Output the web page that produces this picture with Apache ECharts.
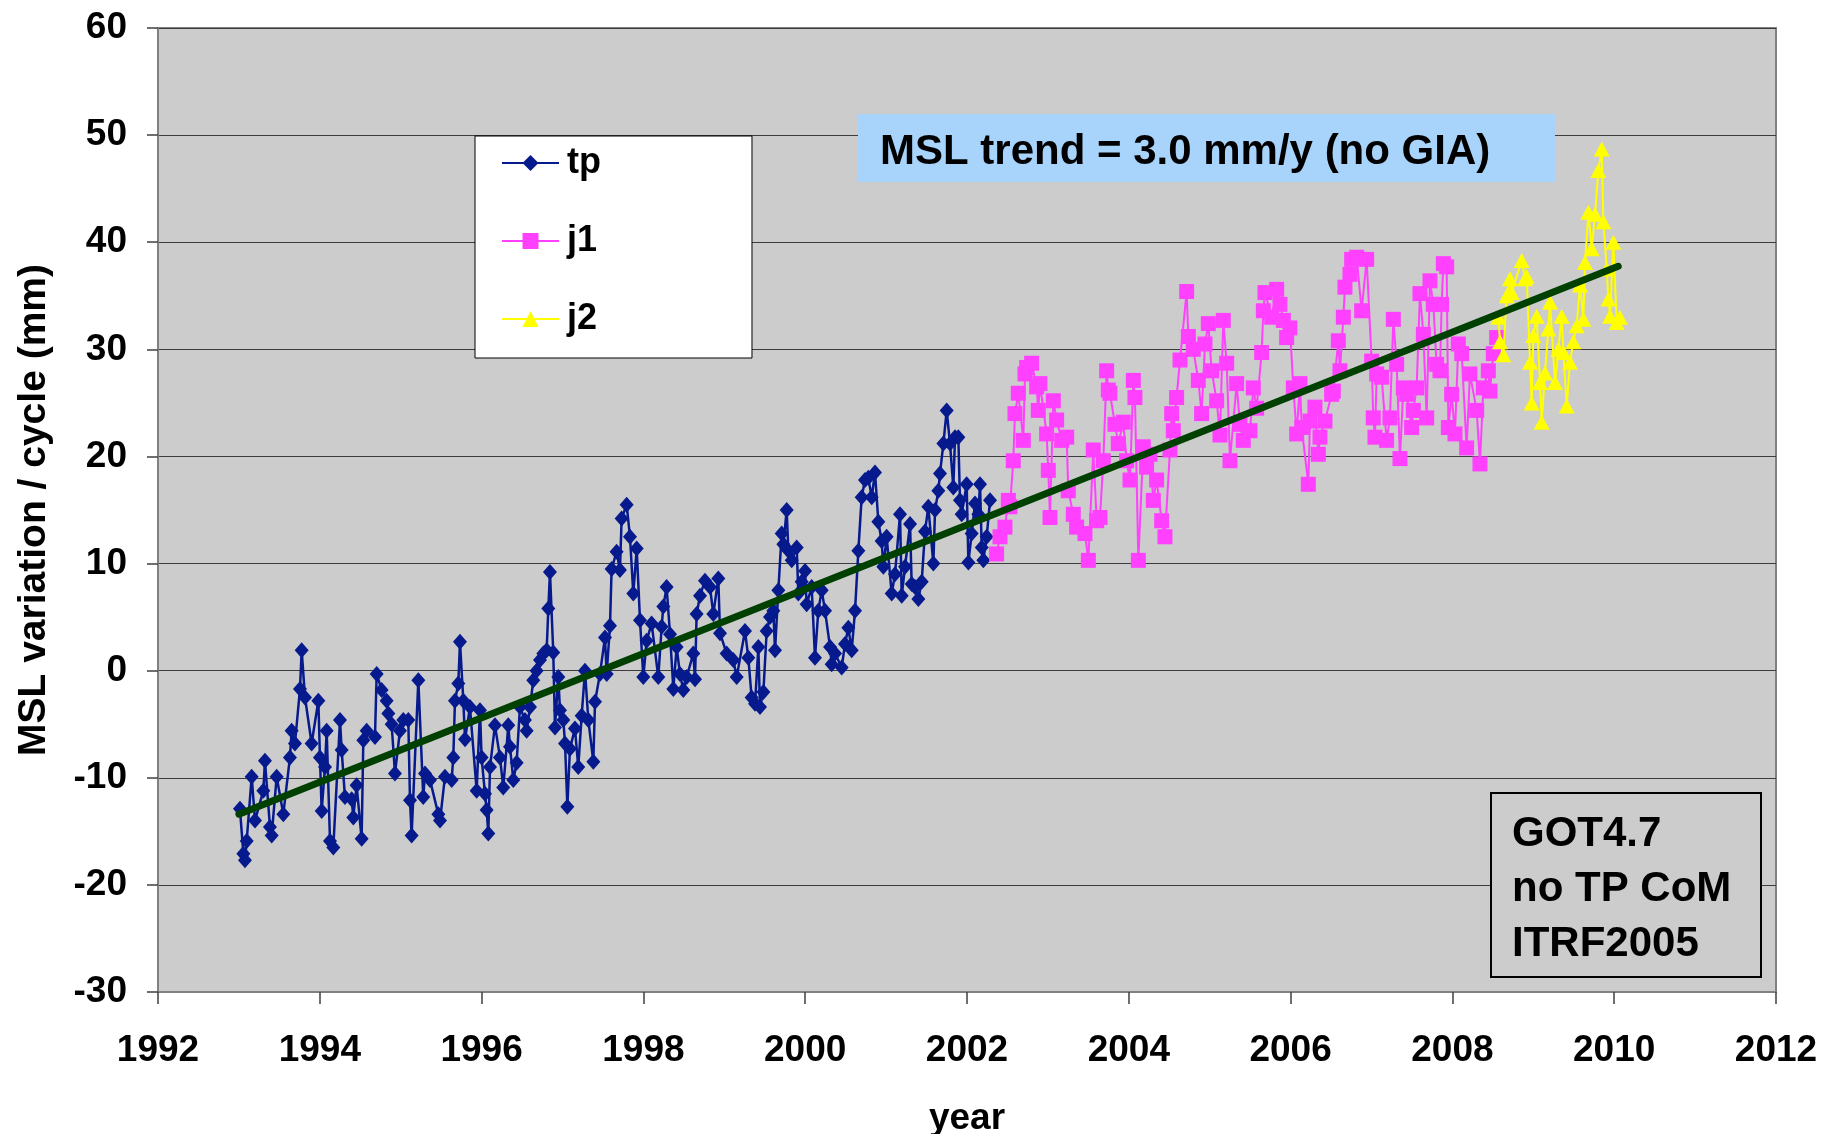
<!DOCTYPE html>
<html>
<head>
<meta charset="utf-8">
<title>MSL variation per cycle</title>
<script src="https://cdn.jsdelivr.net/npm/echarts@6/dist/echarts.min.js"></script>
<style>
  html, body { margin: 0; padding: 0; background: #ffffff; }
  #chart { width: 1826px; height: 1134px; }
</style>
</head>
<body>
<div id="chart"></div>
<script>
// Mean sea level variation per altimeter cycle: [decimal year, mm]
const tp = [
  [1993.013,-12.9],[1993.055,-17.1],[1993.075,-17.7],[1993.096,-15.9],[1993.158,-9.9],[1993.199,-14.0],
  [1993.302,-11.2],[1993.322,-8.4],[1993.384,-14.6],[1993.405,-15.4],[1993.467,-9.9],[1993.549,-13.4],
  [1993.631,-8.1],[1993.652,-5.6],[1993.693,-6.8],[1993.755,-1.7],[1993.776,1.9],[1993.817,-2.5],
  [1993.899,-6.8],[1993.982,-2.8],[1994.002,-8.1],[1994.023,-13.1],[1994.064,-9.0],[1994.085,-5.6],
  [1994.126,-15.9],[1994.167,-16.5],[1994.250,-4.6],[1994.270,-7.4],[1994.311,-11.8],[1994.394,-12.0],
  [1994.414,-13.7],[1994.455,-10.7],[1994.517,-15.7],[1994.538,-6.5],[1994.579,-5.6],[1994.682,-6.2],
  [1994.703,-0.3],[1994.764,-1.8],[1994.826,-2.8],[1994.847,-4.0],[1994.888,-5.0],[1994.929,-9.6],
  [1994.991,-5.6],[1995.032,-4.6],[1995.094,-4.6],[1995.115,-12.1],[1995.135,-15.4],[1995.218,-0.9],
  [1995.279,-11.8],[1995.300,-9.6],[1995.362,-10.2],[1995.465,-13.4],[1995.486,-14.0],[1995.547,-9.9],
  [1995.630,-10.2],[1995.650,-8.1],[1995.671,-2.8],[1995.712,-1.2],[1995.733,2.7],[1995.774,-2.8],
  [1995.795,-6.4],[1995.856,-3.4],[1995.939,-11.2],
  [1995.980,-3.7],[1996.000,-8.1],[1996.042,-11.5],[1996.062,-13.0],[1996.083,-15.2],[1996.104,-9.0],
  [1996.165,-5.1],[1996.227,-8.1],[1996.268,-10.9],[1996.330,-5.1],[1996.351,-7.1],[1996.392,-10.2],
  [1996.433,-8.6],[1996.474,-3.4],[1996.536,-4.6],[1996.557,-5.6],[1996.598,-3.4],[1996.639,-0.9],
  [1996.680,0.0],[1996.722,1.0],[1996.763,1.6],[1996.804,1.9],[1996.825,5.8],[1996.845,9.2],
  [1996.886,1.7],[1996.907,-5.3],[1996.948,-0.6],[1996.969,-3.7],[1997.010,-4.6],[1997.031,-6.8],
  [1997.060,-12.7],[1997.092,-7.3],[1997.154,-5.4],[1997.195,-9.0],[1997.237,-4.2],[1997.278,0.0],
  [1997.319,-4.6],[1997.381,-8.5],[1997.402,-2.9],[1997.463,-0.3],[1997.525,3.1],[1997.546,-0.3],
  [1997.587,4.2],[1997.607,9.5],[1997.669,11.1],[1997.710,9.4],[1997.731,14.2],[1997.793,15.5],
  [1997.834,12.5],[1997.875,7.2],[1997.917,11.4],[1997.958,4.7],[1997.999,-0.6],[1998.040,2.8],
  [1998.102,4.4],[1998.184,-0.6],[1998.226,4.1],[1998.246,6.0],[1998.287,7.8],[1998.329,3.4],
  [1998.370,-1.7],[1998.411,2.2],[1998.452,-0.3],[1998.493,-1.8],[1998.535,-0.6],[1998.617,1.6],
  [1998.638,-0.8],[1998.658,5.3],[1998.700,7.0],[1998.761,8.4],[1998.823,7.8],[1998.864,5.3],
  [1998.926,8.6],[1998.947,3.5],[1999.029,1.6],[1999.111,1.0],[1999.153,-0.6],
  [1999.256,3.7],[1999.297,1.2],[1999.338,-2.5],[1999.380,-3.1],[1999.421,2.2],[1999.441,-3.4],
  [1999.483,-2.0],[1999.524,3.7],[1999.565,5.0],[1999.606,5.6],[1999.627,1.9],[1999.668,7.5],
  [1999.709,12.8],[1999.730,11.8],[1999.771,15.0],[1999.792,11.2],[1999.833,10.3],[1999.895,11.5],
  [1999.915,7.2],[1999.956,8.3],[1999.998,9.3],[2000.018,6.2],[2000.080,7.8],[2000.121,1.2],
  [2000.162,5.6],[2000.204,7.5],[2000.245,5.6],[2000.307,2.2],[2000.327,0.6],[2000.369,1.6],
  [2000.451,0.3],[2000.492,2.5],[2000.533,4.0],[2000.575,1.9],[2000.616,5.6],[2000.657,11.2],
  [2000.698,16.2],[2000.739,17.8],[2000.780,18.0],[2000.822,16.2],[2000.863,18.5],[2000.904,13.9],
  [2000.945,12.1],[2000.966,9.7],[2001.007,12.5],[2001.069,7.2],[2001.110,9.0],[2001.172,14.6],
  [2001.193,7.0],[2001.234,9.7],[2001.296,13.7],[2001.316,8.1],[2001.357,7.8],[2001.399,6.7],
  [2001.440,8.3],[2001.481,13.0],[2001.522,15.3],[2001.584,10.0],[2001.605,15.0],[2001.646,16.8],
  [2001.666,18.4],[2001.708,21.2],[2001.749,24.3],[2001.790,21.2],[2001.831,17.1],[2001.852,21.8],
  [2001.893,21.8],[2001.913,15.9],[2001.934,14.6],[2001.996,17.4],[2002.017,10.1],[2002.058,12.8],
  [2002.099,15.6],[2002.140,14.6],[2002.161,17.4],[2002.182,11.5],[2002.202,10.3],[2002.243,12.5],
  [2002.285,15.9]
];

const j1 = [
  [2002.366,10.9],[2002.408,12.5],[2002.469,13.4],[2002.511,15.9],[2002.531,15.3],[2002.572,19.6],
  [2002.593,24.0],[2002.634,25.9],[2002.696,21.5],[2002.717,27.7],[2002.737,28.3],[2002.799,28.7],
  [2002.861,26.5],[2002.881,24.3],[2002.902,26.8],[2002.984,22.1],[2003.005,18.7],[2003.026,14.3],
  [2003.067,25.2],[2003.108,23.4],[2003.170,21.5],[2003.232,21.8],[2003.252,16.8],[2003.314,14.6],
  [2003.355,13.4],[2003.458,12.8],[2003.500,10.3],[2003.561,20.6],[2003.603,14.0],[2003.644,14.3],
  [2003.685,19.6],[2003.726,28.0],[2003.747,26.2],[2003.767,25.9],[2003.829,23.0],[2003.870,21.2],
  [2003.932,23.2],[2003.973,19.6],[2004.015,17.8],[2004.056,27.1],[2004.076,25.5],[2004.118,10.3],
  [2004.179,20.9],[2004.220,19.0],[2004.262,20.2],[2004.303,15.9],[2004.344,17.8],[2004.406,14.0],
  [2004.447,12.5],[2004.509,20.6],[2004.530,24.0],[2004.550,22.4],[2004.591,25.5],[2004.633,29.0],
  [2004.715,35.4],[2004.736,31.2],[2004.797,30.0],[2004.859,27.1],[2004.900,24.0],[2004.942,30.5],
  [2004.983,32.4],[2005.024,28.0],[2005.086,25.2],[2005.127,22.0],[2005.168,32.7],[2005.210,28.7],
  [2005.251,19.6],[2005.333,26.8],[2005.374,23.0],[2005.415,21.5],
  [2005.498,22.4],[2005.539,26.4],[2005.580,24.5],[2005.642,29.7],[2005.663,33.6],[2005.683,35.3],
  [2005.766,33.0],[2005.828,35.6],[2005.869,34.2],[2005.910,32.7],[2005.951,31.1],[2005.992,32.0],
  [2006.034,26.4],[2006.075,22.1],[2006.116,26.8],[2006.137,22.7],[2006.219,17.4],[2006.240,23.3],
  [2006.301,24.6],[2006.343,20.2],[2006.363,21.8],[2006.425,23.3],[2006.507,25.8],[2006.528,26.1],
  [2006.590,30.8],[2006.610,28.0],[2006.652,33.0],[2006.672,35.8],[2006.734,37.0],[2006.755,38.4],
  [2006.817,38.6],[2006.878,33.6],[2006.940,38.4],[2007.002,28.9],[2007.022,23.6],[2007.043,21.8],
  [2007.064,27.7],[2007.125,27.4],[2007.187,21.5],[2007.228,23.6],[2007.270,32.8],[2007.311,28.6],
  [2007.352,19.8],[2007.393,26.4],[2007.435,25.8],[2007.496,22.7],[2007.517,24.3],[2007.558,26.4],
  [2007.599,35.2],[2007.641,31.4],[2007.682,23.6],[2007.723,36.4],[2007.764,34.2],[2007.805,28.6],
  [2007.847,28.0],[2007.867,34.2],[2007.888,38.0],[2007.929,37.7],[2007.950,22.7],[2007.991,25.8],
  [2008.032,22.1],[2008.073,30.5],[2008.115,29.6],[2008.176,20.8],[2008.217,27.7],[2008.300,24.3],
  [2008.341,19.3],[2008.382,26.4],[2008.444,28.0],[2008.465,26.1],[2008.506,29.6],[2008.547,31.1]
];

const j2 = [
  [2008.568,33.0],[2008.589,30.7],[2008.630,29.5],[2008.671,35.0],[2008.712,36.6],[2008.733,35.3],
  [2008.857,38.3],[2008.898,36.6],[2008.918,36.8],[2008.960,28.8],[2008.980,25.0],[2009.001,31.3],
  [2009.042,33.1],[2009.083,26.9],[2009.104,23.2],[2009.145,27.8],[2009.186,31.9],[2009.207,34.4],
  [2009.269,26.9],[2009.310,30.0],[2009.351,33.1],[2009.372,29.7],[2009.413,24.7],[2009.454,28.8],
  [2009.495,30.7],[2009.536,32.2],[2009.578,36.0],[2009.619,32.8],[2009.639,38.1],[2009.681,42.8],
  [2009.722,39.4],[2009.763,42.6],[2009.804,46.7],[2009.846,48.7],[2009.866,41.9],[2009.907,37.5],
  [2009.928,34.7],[2009.949,33.1],[2009.990,40.0],[2010.031,32.5],[2010.070,33.0]
];

// Linear MSL trend (mm per year), drawn through an anchor point over the record span
const trendRate = 3.0;
const trendAnchor = [2001.5, 12.1];
const trendSpan = [1993.0, 2010.05];

// Axis ticks
const yearAxis = { min: 1992, max: 2012, step: 2 };
const mslAxis = { min: -30, max: 60, step: 10 };

// Notes drawn on the plot
const modelNotes = ['GOT4.7', 'no TP CoM', 'ITRF2005'];

const FONT = '"Liberation Sans", Arial, Helvetica, sans-serif';

const trendLine = trendSpan.map(function (t) {
  return [t, trendAnchor[1] + trendRate * (t - trendAnchor[0])];
});

const chart = echarts.init(document.getElementById('chart'), null, { renderer: 'canvas' });

chart.setOption({
  animation: false,
  backgroundColor: '#ffffff',
  grid: {
    left: 158, right: 50, top: 28, bottom: 142,
    outerBoundsMode: 'none',
    containLabel: false,
    show: true,
    backgroundColor: '#cccccc',
    borderColor: '#808080',
    borderWidth: 2
  },
  legend: {
    data: ['tp', 'j1', 'j2'],
    orient: 'vertical',
    left: 475,
    top: 136,
    padding: [9, 151, 21, 26],
    itemGap: 42,
    itemWidth: 57,
    itemHeight: 20,
    backgroundColor: '#ffffff',
    borderColor: '#000000',
    borderWidth: 1,
    borderRadius: 0,
    selectedMode: false,
    textStyle: {
      fontFamily: FONT, fontSize: 36, fontWeight: 'bold', color: '#000000',
      lineHeight: 36, padding: [0, 0, 0, 3]
    }
  },
  xAxis: {
    type: 'value',
    min: yearAxis.min,
    max: yearAxis.max,
    interval: yearAxis.step,
    name: 'year',
    nameLocation: 'middle',
    nameGap: 108,
    nameTextStyle: { fontFamily: FONT, fontSize: 37, fontWeight: 'bold', color: '#000000' },
    axisLine: { show: true, onZero: false, lineStyle: { color: '#808080', width: 2 } },
    axisTick: { show: true, inside: false, length: 12, lineStyle: { color: '#404040', width: 1.5 } },
    axisLabel: {
      margin: 40,
      fontFamily: FONT, fontSize: 37, fontWeight: 'bold', color: '#000000',
      showMinLabel: true, showMaxLabel: true,
      formatter: function (v) { return String(v); }
    },
    splitLine: { show: false }
  },
  yAxis: {
    type: 'value',
    min: mslAxis.min,
    max: mslAxis.max,
    interval: mslAxis.step,
    name: 'MSL variation / cycle (mm)',
    nameLocation: 'middle',
    nameRotate: 90,
    nameGap: 104,
    nameTextStyle: { fontFamily: FONT, fontSize: 39, fontWeight: 'bold', color: '#000000' },
    axisLine: { show: true, onZero: false, lineStyle: { color: '#808080', width: 2 } },
    axisTick: { show: true, inside: false, length: 11, lineStyle: { color: '#404040', width: 1.5 } },
    axisLabel: {
      margin: 31,
      fontFamily: FONT, fontSize: 37, fontWeight: 'bold', color: '#000000',
      showMinLabel: true, showMaxLabel: true
    },
    splitLine: { show: true, lineStyle: { color: '#3c3c3c', width: 1.2 } }
  },
  series: [
    {
      name: 'tp', type: 'line', data: tp,
      symbol: 'diamond', symbolSize: [14, 16], showSymbol: true,
      lineStyle: { color: '#061a8e', width: 2.5 },
      itemStyle: { color: '#061a8e' },
      z: 2
    },
    {
      name: 'j1', type: 'line', data: j1,
      symbol: 'rect', symbolSize: 15, showSymbol: true,
      lineStyle: { color: '#ff40ff', width: 2 },
      itemStyle: { color: '#ff40ff' },
      z: 3
    },
    {
      name: 'j2', type: 'line', data: j2,
      symbol: 'triangle', symbolSize: [16, 15], showSymbol: true,
      lineStyle: { color: '#ffff00', width: 2 },
      itemStyle: { color: '#ffff00' },
      z: 4
    },
    {
      name: 'trend', type: 'line', data: trendLine,
      symbol: 'none',
      lineStyle: { color: '#004000', width: 7, cap: 'round' },
      z: 6,
      silent: true
    }
  ],
  graphic: [
    {
      type: 'rect', z: 100,
      shape: { x: 858, y: 114, width: 697, height: 68 },
      style: { fill: '#a8d4fb' }
    },
    {
      type: 'text', z: 101, x: 880, y: 152,
      style: {
        text: 'MSL trend = ' + trendRate.toFixed(1) + ' mm/y (no GIA)',
        font: 'bold 42px ' + FONT,
        fill: '#000000',
        align: 'left',
        verticalAlign: 'middle'
      }
    },
    {
      type: 'rect', z: 100,
      shape: { x: 1491, y: 793, width: 270, height: 184 },
      style: { fill: '#cccccc', stroke: '#000000', lineWidth: 2 }
    },
    {
      type: 'text', z: 101, x: 1512, y: 889,
      style: {
        text: modelNotes.join('\n'),
        font: 'bold 42px ' + FONT,
        lineHeight: 55,
        fill: '#000000',
        align: 'left',
        verticalAlign: 'middle'
      }
    }
  ]
});
</script>
</body>
</html>
